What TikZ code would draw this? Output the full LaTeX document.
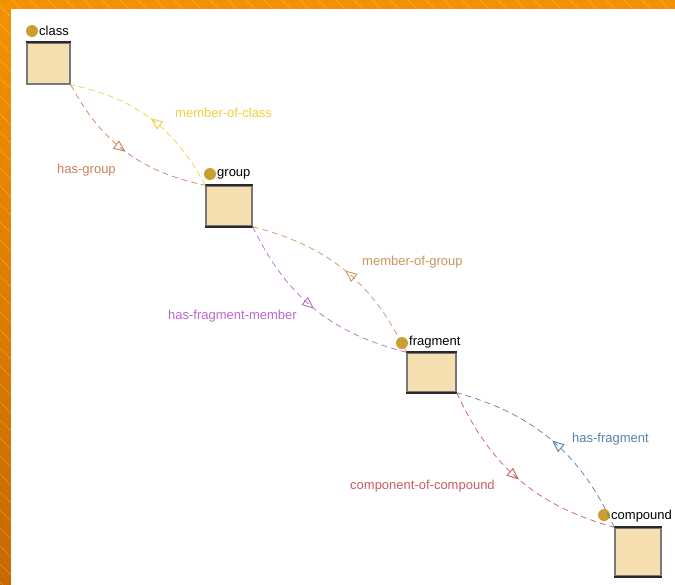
\documentclass[tikz,border=0pt]{standalone}
\usepackage{fontspec}
\setmainfont{Liberation Sans}
\usetikzlibrary{arrows.meta,decorations.markings}
\definecolor{frametop}{RGB}{243,146,0}
\definecolor{framebot}{RGB}{200,104,0}
\definecolor{boxfill}{RGB}{245,223,176}
\definecolor{boxside}{RGB}{120,120,120}
\definecolor{boxtop}{RGB}{40,40,40}
\definecolor{dotc}{RGB}{201,160,48}
\definecolor{chasgroup}{RGB}{205,128,88}
\definecolor{cmemclass}{RGB}{240,208,60}
\definecolor{cmemgroup}{RGB}{200,150,90}
\definecolor{chasfragmem}{RGB}{186,104,206}
\definecolor{chasfrag}{RGB}{84,130,170}
\definecolor{ccomp}{RGB}{204,92,100}
\tikzset{
  classbox/.style={draw=boxside, line width=1.5pt, fill=boxfill, inner sep=0pt, rectangle},
  topedge/.style={draw=boxtop, line width=1.8pt},
  dot/.style={circle, fill=dotc, inner sep=0pt, minimum size=12pt},
  nlabel/.style={anchor=west, inner sep=0pt, font=\fontsize{13}{15}\selectfont, text=black},
  elabel/.style={anchor=west, inner sep=0pt, font=\fontsize{13}{15}\selectfont},
  rel/.style={dash pattern=on 6pt off 4pt, line width=0.7pt, postaction={decorate},
    decoration={markings, mark=at position 0.5 with {\arrow{Triangle[open,length=12pt,width=10pt,line width=0.9pt]}}}},
}
\begin{document}
\begin{tikzpicture}[x=1pt,y=-1pt]
\useasboundingbox (0,0) rectangle (675,584);
% orange frame
\shade[top color=frametop, bottom color=framebot] (0,0) rectangle (675,584);
\begin{scope}
  \clip (0,0) rectangle (675,584);
  \foreach \s in {-600,-582,...,680} {
    \draw[white, opacity=0.25, line width=0.5pt] (\s,0) -- ++(620,620);
  }
\end{scope}
\fill[white] (11,9) rectangle (680,590);

% boxes
\node[classbox, minimum width=43pt, minimum height=41pt] (class) at (48.5,63.5) {};
\node[classbox, minimum width=46pt, minimum height=40pt] (group) at (229,206) {};
\node[classbox, minimum width=49pt, minimum height=39pt] (fragment) at (431.5,372.5) {};
\node[classbox, minimum width=46pt, minimum height=48pt] (compound) at (638,552) {};
\draw[topedge] (class.north west) -- (class.north east);
\draw[topedge] (group.north west) -- (group.north east);
\draw[topedge] (group.south west) -- (group.south east);
\draw[topedge] (fragment.north west) -- (fragment.north east);
\draw[topedge] (fragment.south west) -- (fragment.south east);
\draw[topedge] (compound.north west) -- (compound.north east);
\draw[topedge] (compound.south west) -- (compound.south east);

% dots and names
\node[dot] (classdot) at (32,31) {};
\node[nlabel] (classname) at (39,31) {class};
\node[dot] (groupdot) at (210,174) {};
\node[nlabel] (groupname) at (217,174) {group};
\node[dot] (fragmentdot) at (402,343) {};
\node[nlabel] (fragmentname) at (409,342) {fragment};
\node[dot] (compounddot) at (604,515) {};
\node[nlabel] (compoundname) at (611,516) {compound};

% relations
\draw[rel, chasgroup] (class.south east) to[bend right=25] (group.north west);
\draw[rel, cmemclass] (group.north west) to[bend right=25] (class.south east);
\draw[rel, chasfragmem] (group.south east) to[bend right=25] (fragment.north west);
\draw[rel, cmemgroup] (fragment.north west) to[bend right=25] (group.south east);
\draw[rel, ccomp] (fragment.south east) to[bend right=25] (compound.north west);
\draw[rel, chasfrag] (compound.north west) to[bend right=25] (fragment.south east);

% relation labels
\node[elabel, text=cmemclass] (lmemclass) at (175,113) {member-of-class};
\node[elabel, text=chasgroup] (lhasgroup) at (57,170) {has-group};
\node[elabel, text=cmemgroup] (lmemgroup) at (362,262) {member-of-group};
\node[elabel, text=chasfragmem] (lhasfragmem) at (168,316) {has-fragment-member};
\node[elabel, text=chasfrag] (lhasfrag) at (572,439) {has-fragment};
\node[elabel, text=ccomp] (lcomp) at (350,486) {component-of-compound};
\end{tikzpicture}
\end{document}
